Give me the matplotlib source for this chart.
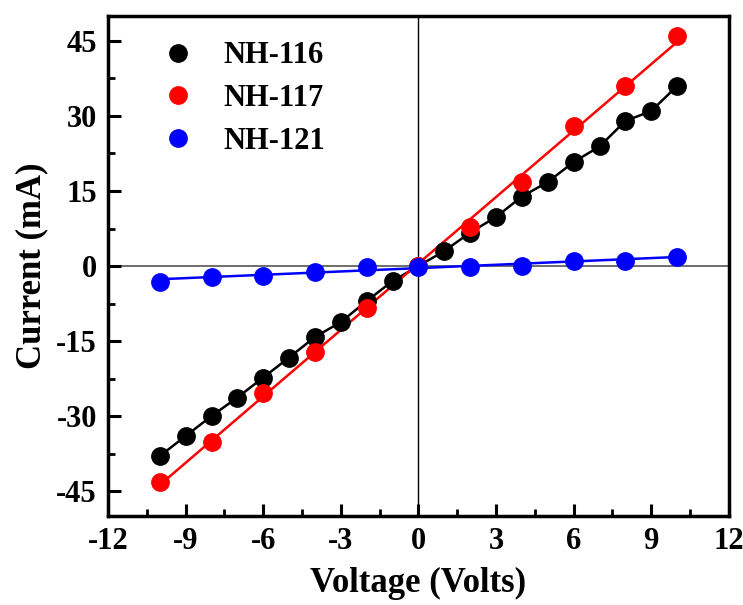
import numpy as np
import matplotlib
matplotlib.use('Agg')
import matplotlib.pyplot as plt
from matplotlib.ticker import MultipleLocator

plt.rcParams['font.family'] = ['Liberation Serif', 'DejaVu Serif']
plt.rcParams['font.weight'] = 'bold'

# I-V data
v_116 = [-10, -9, -8, -7, -6, -5, -4, -3, -2, -1, 0, 1, 2, 3, 4, 5, 6, 7, 8, 9, 10]
i_116 = [-38, -34, -30, -26.3, -22.3, -18.3, -14.2, -11.2, -7, -3, 0,
         3, 6.7, 9.8, 13.9, 16.8, 20.8, 23.9, 29, 31, 36]

v_117 = [-10, -8, -6, -4, -2, 0, 2, 4, 6, 8, 10]
i_117 = [-43.2, -35.1, -25.3, -17.2, -8.3, 0, 7.9, 16.9, 27.9, 36, 46]

v_121 = [-10, -8, -6, -4, -2, 0, 2, 4, 6, 8, 10]
i_121 = [-3.1, -2.1, -2.0, -1.1, -0.1, -0.1, -0.1, 0, 1.0, 1.1, 1.9]

fig = plt.figure(figsize=(7.43, 6.05), dpi=100)
ax = fig.add_axes([0.1454, 0.147, 0.8356, 0.8266])

ax.axhline(0, color='#555555', lw=1.2, zorder=1)
ax.axvline(0, color='black', lw=1.0, zorder=1)

ax.plot(v_116, i_116, color='black', lw=1.8, zorder=2)
ax.plot(v_116, i_116, 'o', color='black', ms=12.5, zorder=3, label='NH-116')

xs = np.array([-10, 10])
for v, i, c, lab in [(v_117, i_117, 'red', 'NH-117'),
                     (v_121, i_121, 'blue', 'NH-121')]:
    k, b = np.polyfit(v, i, 1)
    ax.plot(xs, k * xs + b, color=c, lw=1.8, zorder=2)
    ax.plot(v, i, 'o', color=c, ms=12.5, zorder=3, label=lab)

ax.set_xlim(-12, 12)
ax.set_ylim(-50, 50)
ax.xaxis.set_minor_locator(MultipleLocator(1.5))
ax.yaxis.set_minor_locator(MultipleLocator(7.5))
ax.set_xticks([-12, -9, -6, -3, 0, 3, 6, 9, 12])
ax.set_xticklabels(['-12', '-9', '-6', '-3', '0', '3', '6', '9', '12'])
ax.set_yticks([-45, -30, -15, 0, 15, 30, 45])
ax.set_yticklabels(['-45', '-30', '-15', '0', '15', '30', '45'])

ax.tick_params(which='major', direction='in', length=9, width=2.2,
               labelsize=22, pad=8, top=False, right=False)
ax.tick_params(which='minor', direction='in', length=5, width=2.0,
               top=False, right=False)
for s in ax.spines.values():
    s.set_linewidth(2.5)

ax.set_xlabel('Voltage (Volts)', fontsize=25, fontweight='bold', labelpad=8)
ax.set_ylabel('Current (mA)', fontsize=25, fontweight='bold', labelpad=6)

ax.legend(loc='upper left', frameon=False, fontsize=22, handlelength=1.0,
          handletextpad=1.0, labelspacing=0.45, borderaxespad=0.43,
          bbox_to_anchor=(0.047, 1.0))

fig.savefig('out.png', dpi=100)
